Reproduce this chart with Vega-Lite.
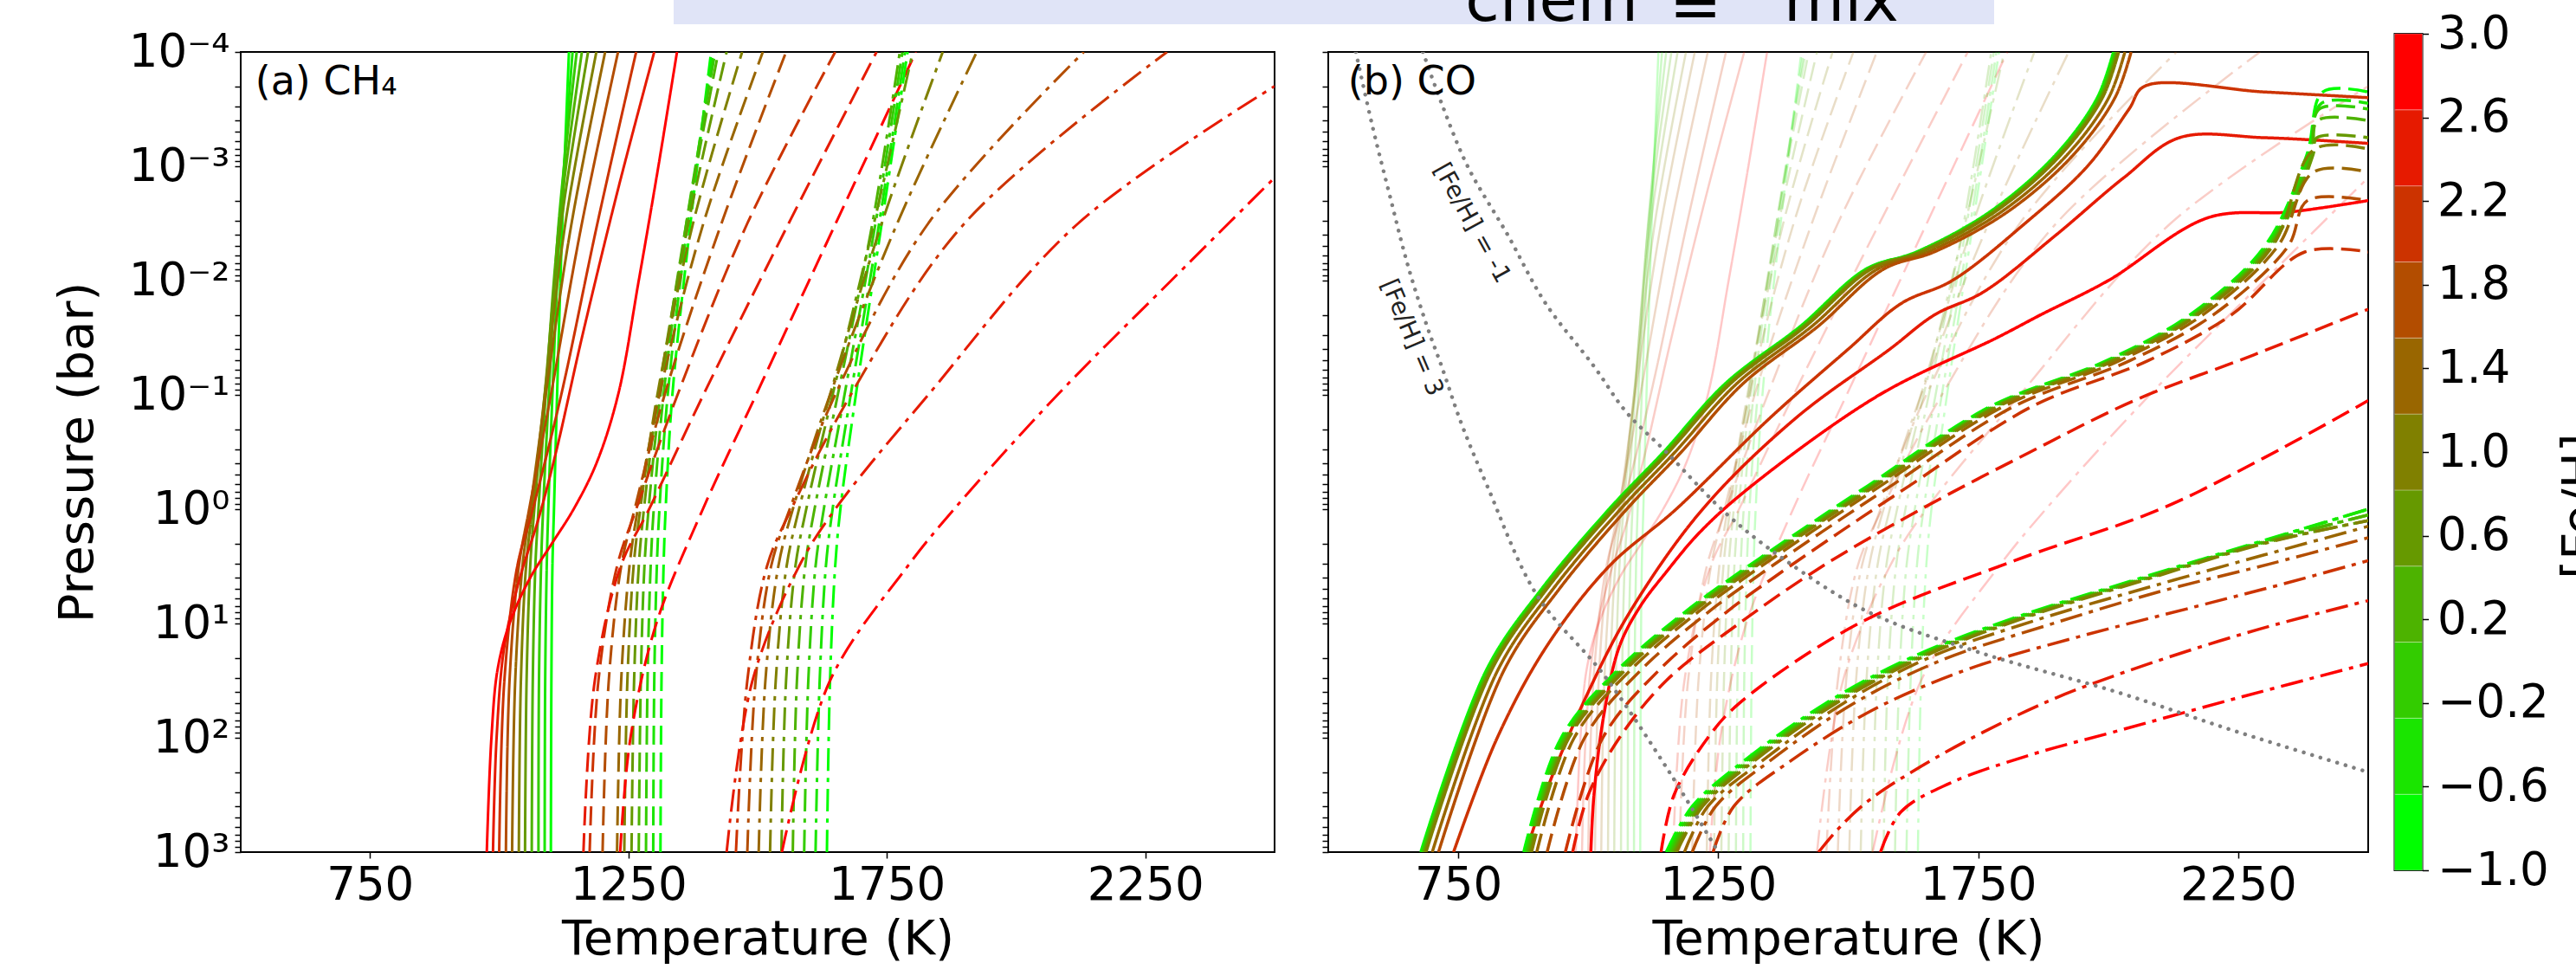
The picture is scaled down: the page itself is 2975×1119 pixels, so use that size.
{
"$schema":"https://vega.github.io/schema/vega-lite/v6.json",
"background":"white",
"autosize":{"type":"pad"},
"padding":{"left":60,"top":-60,"right":0,"bottom":0},
"config":{
 "font":"DejaVu Sans",
 "view":{"stroke":"#000000","strokeWidth":2},
 "axis":{"grid":false,"domain":false,"tickColor":"#000","tickWidth":1.5,"tickSize":7,"labelColor":"#000","titleColor":"#000","labelFont":"DejaVu Sans","titleFont":"DejaVu Sans","labelFontSize":53,"titleFontSize":56,"titleFontWeight":"normal","labelFlush":false,"labelOverlap":false,"labelBound":false},
 "legend":{"disable":true},
 "text":{"font":"DejaVu Sans"}
},
"datasets":{
 "box":[{"T":1337.5,"T2":3892,"p":1.2546e-5,"p2":5.72e-5}],
 "ttl":[{"T":2869,"p":5.34e-5,"t":"chem"},{"T":3264,"p":6.14e-5,"t":"="},{"T":3485,"p":5.34e-5,"t":"mix"}],
 "cbar":[{"f":-1,"lo":-1,"hi":-0.6364},{"f":-0.6,"lo":-0.6364,"hi":-0.2727},{"f":-0.2,"lo":-0.2727,"hi":0.0909},{"f":0.2,"lo":0.0909,"hi":0.4545},{"f":0.6,"lo":0.4545,"hi":0.8182},{"f":1,"lo":0.8182,"hi":1.1818},{"f":1.4,"lo":1.1818,"hi":1.5455},{"f":1.8,"lo":1.5455,"hi":1.9091},{"f":2.2,"lo":1.9091,"hi":2.2727},{"f":2.6,"lo":2.2727,"hi":2.6364},{"f":3,"lo":2.6364,"hi":3}],
 "dots":[
{"c":"m1","T":682,"p":0.0001},{"c":"m1","T":718,"p":0.00028184},{"c":"m1","T":768,"p":0.001},{"c":"m1","T":845,"p":0.0039811},{"c":"m1","T":918,"p":0.015849},{"c":"m1","T":1011,"p":0.056234},{"c":"m1","T":1073,"p":0.14125},{"c":"m1","T":1150,"p":0.31623},{"c":"m1","T":1268,"p":1.122},{"c":"m1","T":1380,"p":2.8184},{"c":"m1","T":1539,"p":7.9433},{"c":"m1","T":1750,"p":17.783},{"c":"m1","T":2017,"p":39.811},{"c":"m1","T":2250,"p":89.125},{"c":"m1","T":2500,"p":199.53},
{"c":"p3","T":553,"p":0.0001},{"c":"p3","T":585,"p":0.00044668},{"c":"p3","T":618,"p":0.0017783},{"c":"p3","T":652,"p":0.0070795},{"c":"p3","T":690,"p":0.025119},{"c":"p3","T":718,"p":0.056234},{"c":"p3","T":756,"p":0.17783},{"c":"p3","T":806,"p":0.63096},{"c":"p3","T":901,"p":5.6234},{"c":"p3","T":1030,"p":28.184},{"c":"p3","T":1156,"p":199.53},{"c":"p3","T":1250,"p":1000}
 ],
 "ch4":[
{"g":"s","f":-1,"T":1100,"p":1000},{"g":"s","f":-1,"T":1101,"p":31.623},{"g":"s","f":-1,"T":1103,"p":3.1623},{"g":"s","f":-1,"T":1106,"p":1},{"g":"s","f":-1,"T":1112,"p":0.1},{"g":"s","f":-1,"T":1122,"p":0.0031623},{"g":"s","f":-1,"T":1135,"p":0.0001},
{"g":"s","f":-0.6,"T":1088,"p":1000},{"g":"s","f":-0.6,"T":1089,"p":31.623},{"g":"s","f":-0.6,"T":1092,"p":3.1623},{"g":"s","f":-0.6,"T":1095,"p":1},{"g":"s","f":-0.6,"T":1103,"p":0.1},{"g":"s","f":-0.6,"T":1118,"p":0.0031623},{"g":"s","f":-0.6,"T":1142,"p":0.0001},
{"g":"s","f":-0.2,"T":1076,"p":1000},{"g":"s","f":-0.2,"T":1077,"p":31.623},{"g":"s","f":-0.2,"T":1081,"p":3.1623},{"g":"s","f":-0.2,"T":1085,"p":1},{"g":"s","f":-0.2,"T":1096,"p":0.1},{"g":"s","f":-0.2,"T":1115,"p":0.0031623},{"g":"s","f":-0.2,"T":1150,"p":0.0001},
{"g":"s","f":0.2,"T":1063,"p":1000},{"g":"s","f":0.2,"T":1065,"p":31.623},{"g":"s","f":0.2,"T":1070,"p":3.1623},{"g":"s","f":0.2,"T":1076,"p":1},{"g":"s","f":0.2,"T":1090,"p":0.1},{"g":"s","f":0.2,"T":1116,"p":0.0031623},{"g":"s","f":0.2,"T":1160,"p":0.0001},
{"g":"s","f":0.6,"T":1050,"p":1000},{"g":"s","f":0.6,"T":1053,"p":31.623},{"g":"s","f":0.6,"T":1060,"p":3.1623},{"g":"s","f":0.6,"T":1068,"p":1},{"g":"s","f":0.6,"T":1088,"p":0.1},{"g":"s","f":0.6,"T":1120,"p":0.0031623},{"g":"s","f":0.6,"T":1172,"p":0.0001},
{"g":"s","f":1,"T":1038,"p":1000},{"g":"s","f":1,"T":1042,"p":31.623},{"g":"s","f":1,"T":1052,"p":3.1623},{"g":"s","f":1,"T":1064,"p":1},{"g":"s","f":1,"T":1088,"p":0.1},{"g":"s","f":1,"T":1128,"p":0.0031623},{"g":"s","f":1,"T":1188,"p":0.0001},
{"g":"s","f":1.4,"T":1025,"p":1000},{"g":"s","f":1.4,"T":1031,"p":31.623},{"g":"s","f":1.4,"T":1045,"p":3.1623},{"g":"s","f":1.4,"T":1060,"p":1},{"g":"s","f":1.4,"T":1090,"p":0.1},{"g":"s","f":1.4,"T":1140,"p":0.0031623},{"g":"s","f":1.4,"T":1205,"p":0.0001},
{"g":"s","f":1.8,"T":1013,"p":1000},{"g":"s","f":1.8,"T":1020,"p":31.623},{"g":"s","f":1.8,"T":1038,"p":3.1623},{"g":"s","f":1.8,"T":1058,"p":1},{"g":"s","f":1.8,"T":1100,"p":0.1},{"g":"s","f":1.8,"T":1160,"p":0.0031623},{"g":"s","f":1.8,"T":1230,"p":0.0001},
{"g":"s","f":2.2,"T":1000,"p":1000},{"g":"s","f":2.2,"T":1010,"p":31.623},{"g":"s","f":2.2,"T":1035,"p":3.1623},{"g":"s","f":2.2,"T":1065,"p":1},{"g":"s","f":2.2,"T":1120,"p":0.1},{"g":"s","f":2.2,"T":1190,"p":0.0031623},{"g":"s","f":2.2,"T":1265,"p":0.0001},
{"g":"s","f":2.6,"T":988,"p":1000},{"g":"s","f":2.6,"T":995,"p":100},{"g":"s","f":2.6,"T":1010,"p":15.849},{"g":"s","f":2.6,"T":1040,"p":3.9811},{"g":"s","f":2.6,"T":1075,"p":1.2589},{"g":"s","f":2.6,"T":1110,"p":0.31623},{"g":"s","f":2.6,"T":1160,"p":0.031623},{"g":"s","f":2.6,"T":1230,"p":0.0015849},{"g":"s","f":2.6,"T":1300,"p":0.0001},
{"g":"s","f":3,"T":976,"p":1000},{"g":"s","f":3,"T":985,"p":100},{"g":"s","f":3,"T":997,"p":25.119},{"g":"s","f":3,"T":1020,"p":10},{"g":"s","f":3,"T":1060,"p":3.9811},{"g":"s","f":3,"T":1102,"p":1.9953},{"g":"s","f":3,"T":1144,"p":1},{"g":"s","f":3,"T":1188,"p":0.39811},{"g":"s","f":3,"T":1230,"p":0.1},{"g":"s","f":3,"T":1270,"p":0.01},{"g":"s","f":3,"T":1308,"p":0.001},{"g":"s","f":3,"T":1344,"p":0.0001},
{"g":"d","f":-1,"T":1312,"p":1000},{"g":"d","f":-1,"T":1314,"p":31.623},{"g":"d","f":-1,"T":1318,"p":3.1623},{"g":"d","f":-1,"T":1322,"p":1},{"g":"d","f":-1,"T":1335,"p":0.1},{"g":"d","f":-1,"T":1370,"p":0.0031623},{"g":"d","f":-1,"T":1410,"p":0.0001},
{"g":"d","f":-0.6,"T":1298,"p":1000},{"g":"d","f":-0.6,"T":1300,"p":31.623},{"g":"d","f":-0.6,"T":1305,"p":3.1623},{"g":"d","f":-0.6,"T":1310,"p":1},{"g":"d","f":-0.6,"T":1326,"p":0.1},{"g":"d","f":-0.6,"T":1365,"p":0.0031623},{"g":"d","f":-0.6,"T":1414,"p":0.0001},
{"g":"d","f":-0.2,"T":1284,"p":1000},{"g":"d","f":-0.2,"T":1287,"p":31.623},{"g":"d","f":-0.2,"T":1293,"p":3.1623},{"g":"d","f":-0.2,"T":1299,"p":1},{"g":"d","f":-0.2,"T":1318,"p":0.1},{"g":"d","f":-0.2,"T":1362,"p":0.0031623},{"g":"d","f":-0.2,"T":1418,"p":0.0001},
{"g":"d","f":0.2,"T":1270,"p":1000},{"g":"d","f":0.2,"T":1274,"p":31.623},{"g":"d","f":0.2,"T":1281,"p":3.1623},{"g":"d","f":0.2,"T":1289,"p":1},{"g":"d","f":0.2,"T":1312,"p":0.1},{"g":"d","f":0.2,"T":1362,"p":0.0031623},{"g":"d","f":0.2,"T":1424,"p":0.0001},
{"g":"d","f":0.6,"T":1256,"p":1000},{"g":"d","f":0.6,"T":1261,"p":31.623},{"g":"d","f":0.6,"T":1270,"p":3.1623},{"g":"d","f":0.6,"T":1280,"p":1},{"g":"d","f":0.6,"T":1308,"p":0.1},{"g":"d","f":0.6,"T":1366,"p":0.0031623},{"g":"d","f":0.6,"T":1440,"p":0.0001},
{"g":"d","f":1,"T":1242,"p":1000},{"g":"d","f":1,"T":1248,"p":31.623},{"g":"d","f":1,"T":1260,"p":3.1623},{"g":"d","f":1,"T":1273,"p":1},{"g":"d","f":1,"T":1306,"p":0.1},{"g":"d","f":1,"T":1375,"p":0.0031623},{"g":"d","f":1,"T":1470,"p":0.0001},
{"g":"d","f":1.4,"T":1228,"p":1000},{"g":"d","f":1.4,"T":1236,"p":31.623},{"g":"d","f":1.4,"T":1252,"p":3.1623},{"g":"d","f":1.4,"T":1268,"p":1},{"g":"d","f":1.4,"T":1310,"p":0.1},{"g":"d","f":1.4,"T":1395,"p":0.0031623},{"g":"d","f":1.4,"T":1510,"p":0.0001},
{"g":"d","f":1.8,"T":1200,"p":1000},{"g":"d","f":1.8,"T":1212,"p":31.623},{"g":"d","f":1.8,"T":1236,"p":3.1623},{"g":"d","f":1.8,"T":1262,"p":1},{"g":"d","f":1.8,"T":1320,"p":0.1},{"g":"d","f":1.8,"T":1430,"p":0.0031623},{"g":"d","f":1.8,"T":1555,"p":0.0001},
{"g":"d","f":2.2,"T":1175,"p":1000},{"g":"d","f":2.2,"T":1192,"p":31.623},{"g":"d","f":2.2,"T":1228,"p":3.1623},{"g":"d","f":2.2,"T":1265,"p":1},{"g":"d","f":2.2,"T":1345,"p":0.1},{"g":"d","f":2.2,"T":1480,"p":0.0031623},{"g":"d","f":2.2,"T":1650,"p":0.0001},
{"g":"d","f":2.6,"T":1163,"p":1000},{"g":"d","f":2.6,"T":1185,"p":31.623},{"g":"d","f":2.6,"T":1235,"p":3.1623},{"g":"d","f":2.6,"T":1290,"p":1},{"g":"d","f":2.6,"T":1395,"p":0.1},{"g":"d","f":2.6,"T":1560,"p":0.0031623},{"g":"d","f":2.6,"T":1730,"p":0.0001},
{"g":"d","f":3,"T":1234,"p":1000},{"g":"d","f":3,"T":1254,"p":100},{"g":"d","f":3,"T":1304,"p":10},{"g":"d","f":3,"T":1394,"p":1},{"g":"d","f":3,"T":1497,"p":0.1},{"g":"d","f":3,"T":1651,"p":0.0031623},{"g":"d","f":3,"T":1806,"p":0.0001},
{"g":"dd","f":-1,"T":1634,"p":1000},{"g":"dd","f":-1,"T":1640,"p":31.623},{"g":"dd","f":-1,"T":1650,"p":3.1623},{"g":"dd","f":-1,"T":1660,"p":1},{"g":"dd","f":-1,"T":1690,"p":0.1},{"g":"dd","f":-1,"T":1740,"p":0.0031623},{"g":"dd","f":-1,"T":1790,"p":0.0001},
{"g":"dd","f":-0.6,"T":1612,"p":1000},{"g":"dd","f":-0.6,"T":1620,"p":31.623},{"g":"dd","f":-0.6,"T":1632,"p":3.1623},{"g":"dd","f":-0.6,"T":1645,"p":1},{"g":"dd","f":-0.6,"T":1680,"p":0.1},{"g":"dd","f":-0.6,"T":1735,"p":0.0031623},{"g":"dd","f":-0.6,"T":1785,"p":0.0001},
{"g":"dd","f":-0.2,"T":1590,"p":1000},{"g":"dd","f":-0.2,"T":1598,"p":31.623},{"g":"dd","f":-0.2,"T":1612,"p":3.1623},{"g":"dd","f":-0.2,"T":1628,"p":1},{"g":"dd","f":-0.2,"T":1668,"p":0.1},{"g":"dd","f":-0.2,"T":1728,"p":0.0031623},{"g":"dd","f":-0.2,"T":1780,"p":0.0001},
{"g":"dd","f":0.2,"T":1568,"p":1000},{"g":"dd","f":0.2,"T":1576,"p":31.623},{"g":"dd","f":0.2,"T":1592,"p":3.1623},{"g":"dd","f":0.2,"T":1610,"p":1},{"g":"dd","f":0.2,"T":1655,"p":0.1},{"g":"dd","f":0.2,"T":1722,"p":0.0031623},{"g":"dd","f":0.2,"T":1775,"p":0.0001},
{"g":"dd","f":0.6,"T":1546,"p":1000},{"g":"dd","f":0.6,"T":1555,"p":31.623},{"g":"dd","f":0.6,"T":1573,"p":3.1623},{"g":"dd","f":0.6,"T":1594,"p":1},{"g":"dd","f":0.6,"T":1645,"p":0.1},{"g":"dd","f":0.6,"T":1725,"p":0.0031623},{"g":"dd","f":0.6,"T":1800,"p":0.0001},
{"g":"dd","f":1,"T":1524,"p":1000},{"g":"dd","f":1,"T":1535,"p":31.623},{"g":"dd","f":1,"T":1556,"p":3.1623},{"g":"dd","f":1,"T":1580,"p":1},{"g":"dd","f":1,"T":1640,"p":0.1},{"g":"dd","f":1,"T":1740,"p":0.0031623},{"g":"dd","f":1,"T":1858,"p":0.0001},
{"g":"dd","f":1.4,"T":1502,"p":1000},{"g":"dd","f":1.4,"T":1515,"p":31.623},{"g":"dd","f":1.4,"T":1540,"p":3.1623},{"g":"dd","f":1.4,"T":1568,"p":1},{"g":"dd","f":1.4,"T":1640,"p":0.1},{"g":"dd","f":1.4,"T":1770,"p":0.0031623},{"g":"dd","f":1.4,"T":1924,"p":0.0001},
{"g":"dd","f":1.8,"T":1480,"p":1000},{"g":"dd","f":1.8,"T":1496,"p":31.623},{"g":"dd","f":1.8,"T":1526,"p":3.1623},{"g":"dd","f":1.8,"T":1562,"p":1},{"g":"dd","f":1.8,"T":1650,"p":0.1},{"g":"dd","f":1.8,"T":1830,"p":0.0031623},{"g":"dd","f":1.8,"T":2131,"p":0.0001},
{"g":"dd","f":2.2,"T":1458,"p":1000},{"g":"dd","f":2.2,"T":1480,"p":31.623},{"g":"dd","f":2.2,"T":1518,"p":3.1623},{"g":"dd","f":2.2,"T":1565,"p":1},{"g":"dd","f":2.2,"T":1680,"p":0.1},{"g":"dd","f":2.2,"T":1900,"p":0.0031623},{"g":"dd","f":2.2,"T":2292,"p":0.0001},
{"g":"dd","f":2.6,"T":1440,"p":1000},{"g":"dd","f":2.6,"T":1490,"p":31.623},{"g":"dd","f":2.6,"T":1580,"p":3.1623},{"g":"dd","f":2.6,"T":1650,"p":1},{"g":"dd","f":2.6,"T":1830,"p":0.1},{"g":"dd","f":2.6,"T":2120,"p":0.0031623},{"g":"dd","f":2.6,"T":2500,"p":0.00019953},
{"g":"dd","f":3,"T":1547,"p":1000},{"g":"dd","f":3,"T":1640,"p":31.623},{"g":"dd","f":3,"T":1790,"p":3.1623},{"g":"dd","f":3,"T":1880,"p":1},{"g":"dd","f":3,"T":2080,"p":0.1},{"g":"dd","f":3,"T":2300,"p":0.01},{"g":"dd","f":3,"T":2500,"p":0.0012589}
 ],
 "co":[
{"g":"s","f":-1,"T":678,"p":1000},{"g":"s","f":-1,"T":805,"p":25.119},{"g":"s","f":-1,"T":910,"p":5.0119},{"g":"s","f":-1,"T":1040,"p":1},{"g":"s","f":-1,"T":1145,"p":0.31623},{"g":"s","f":-1,"T":1264,"p":0.079433},{"g":"s","f":-1,"T":1408,"p":0.025119},{"g":"s","f":-1,"T":1534,"p":0.0079433},{"g":"s","f":-1,"T":1631,"p":0.0056234},{"g":"s","f":-1,"T":1772,"p":0.0025119},{"g":"s","f":-1,"T":1899,"p":0.00079433},{"g":"s","f":-1,"T":1979,"p":0.00025119},{"g":"s","f":-1,"T":2010,"p":0.0001},
{"g":"s","f":-0.6,"T":680,"p":1000},{"g":"s","f":-0.6,"T":807,"p":25.119},{"g":"s","f":-0.6,"T":912,"p":5.0119},{"g":"s","f":-0.6,"T":1042,"p":1},{"g":"s","f":-0.6,"T":1147,"p":0.31623},{"g":"s","f":-0.6,"T":1266,"p":0.079433},{"g":"s","f":-0.6,"T":1410,"p":0.025119},{"g":"s","f":-0.6,"T":1536,"p":0.0079433},{"g":"s","f":-0.6,"T":1633,"p":0.0056234},{"g":"s","f":-0.6,"T":1774,"p":0.0025119},{"g":"s","f":-0.6,"T":1901,"p":0.00079433},{"g":"s","f":-0.6,"T":1981,"p":0.00025119},{"g":"s","f":-0.6,"T":2012,"p":0.0001},
{"g":"s","f":-0.2,"T":682,"p":1000},{"g":"s","f":-0.2,"T":809,"p":25.119},{"g":"s","f":-0.2,"T":914,"p":5.0119},{"g":"s","f":-0.2,"T":1044,"p":1},{"g":"s","f":-0.2,"T":1149,"p":0.31623},{"g":"s","f":-0.2,"T":1268,"p":0.079433},{"g":"s","f":-0.2,"T":1412,"p":0.025119},{"g":"s","f":-0.2,"T":1538,"p":0.0079433},{"g":"s","f":-0.2,"T":1635,"p":0.0056234},{"g":"s","f":-0.2,"T":1776,"p":0.0025119},{"g":"s","f":-0.2,"T":1903,"p":0.00079433},{"g":"s","f":-0.2,"T":1983,"p":0.00025119},{"g":"s","f":-0.2,"T":2014,"p":0.0001},
{"g":"s","f":0.2,"T":684,"p":1000},{"g":"s","f":0.2,"T":811,"p":25.119},{"g":"s","f":0.2,"T":916,"p":5.0119},{"g":"s","f":0.2,"T":1046,"p":1},{"g":"s","f":0.2,"T":1151,"p":0.31623},{"g":"s","f":0.2,"T":1270,"p":0.079433},{"g":"s","f":0.2,"T":1414,"p":0.025119},{"g":"s","f":0.2,"T":1540,"p":0.0079433},{"g":"s","f":0.2,"T":1637,"p":0.0056234},{"g":"s","f":0.2,"T":1778,"p":0.0025119},{"g":"s","f":0.2,"T":1905,"p":0.00079433},{"g":"s","f":0.2,"T":1985,"p":0.00025119},{"g":"s","f":0.2,"T":2016,"p":0.0001},
{"g":"s","f":0.6,"T":686,"p":1000},{"g":"s","f":0.6,"T":813,"p":25.119},{"g":"s","f":0.6,"T":918,"p":5.0119},{"g":"s","f":0.6,"T":1048,"p":1},{"g":"s","f":0.6,"T":1153,"p":0.31623},{"g":"s","f":0.6,"T":1272,"p":0.079433},{"g":"s","f":0.6,"T":1416,"p":0.025119},{"g":"s","f":0.6,"T":1542,"p":0.0079433},{"g":"s","f":0.6,"T":1639,"p":0.0056234},{"g":"s","f":0.6,"T":1780,"p":0.0025119},{"g":"s","f":0.6,"T":1907,"p":0.00079433},{"g":"s","f":0.6,"T":1987,"p":0.00025119},{"g":"s","f":0.6,"T":2018,"p":0.0001},
{"g":"s","f":1,"T":688,"p":1000},{"g":"s","f":1,"T":815,"p":25.119},{"g":"s","f":1,"T":920,"p":5.0119},{"g":"s","f":1,"T":1050,"p":1},{"g":"s","f":1,"T":1155,"p":0.31623},{"g":"s","f":1,"T":1274,"p":0.079433},{"g":"s","f":1,"T":1418,"p":0.025119},{"g":"s","f":1,"T":1544,"p":0.0079433},{"g":"s","f":1,"T":1641,"p":0.0056234},{"g":"s","f":1,"T":1782,"p":0.0025119},{"g":"s","f":1,"T":1909,"p":0.00079433},{"g":"s","f":1,"T":1989,"p":0.00025119},{"g":"s","f":1,"T":2020,"p":0.0001},
{"g":"s","f":1.4,"T":700,"p":1000},{"g":"s","f":1.4,"T":827,"p":25.119},{"g":"s","f":1.4,"T":932,"p":5.0119},{"g":"s","f":1.4,"T":1062,"p":1},{"g":"s","f":1.4,"T":1167,"p":0.31623},{"g":"s","f":1.4,"T":1286,"p":0.079433},{"g":"s","f":1.4,"T":1430,"p":0.025119},{"g":"s","f":1.4,"T":1556,"p":0.0079433},{"g":"s","f":1.4,"T":1653,"p":0.0056234},{"g":"s","f":1.4,"T":1794,"p":0.0025119},{"g":"s","f":1.4,"T":1921,"p":0.00079433},{"g":"s","f":1.4,"T":2001,"p":0.00025119},{"g":"s","f":1.4,"T":2032,"p":0.0001},
{"g":"s","f":1.8,"T":712,"p":1000},{"g":"s","f":1.8,"T":839,"p":25.119},{"g":"s","f":1.8,"T":944,"p":5.0119},{"g":"s","f":1.8,"T":1074,"p":1},{"g":"s","f":1.8,"T":1179,"p":0.31623},{"g":"s","f":1.8,"T":1298,"p":0.079433},{"g":"s","f":1.8,"T":1442,"p":0.025119},{"g":"s","f":1.8,"T":1568,"p":0.0079433},{"g":"s","f":1.8,"T":1665,"p":0.0056234},{"g":"s","f":1.8,"T":1806,"p":0.0025119},{"g":"s","f":1.8,"T":1933,"p":0.00079433},{"g":"s","f":1.8,"T":2013,"p":0.00025119},{"g":"s","f":1.8,"T":2044,"p":0.0001},
{"g":"s","f":2.2,"T":741,"p":1000},{"g":"s","f":2.2,"T":825,"p":100},{"g":"s","f":2.2,"T":920,"p":15.849},{"g":"s","f":2.2,"T":1040,"p":3.1623},{"g":"s","f":2.2,"T":1169,"p":1},{"g":"s","f":2.2,"T":1350,"p":0.15849},{"g":"s","f":2.2,"T":1500,"p":0.039811},{"g":"s","f":2.2,"T":1602,"p":0.015849},{"g":"s","f":2.2,"T":1700,"p":0.01},{"g":"s","f":2.2,"T":1840,"p":0.0031623},{"g":"s","f":2.2,"T":1960,"p":0.001},{"g":"s","f":2.2,"T":2040,"p":0.00031623},{"g":"s","f":2.2,"T":2070,"p":0.00019953},{"g":"s","f":2.2,"T":2300,"p":0.00022387},{"g":"s","f":2.2,"T":2500,"p":0.00025119},
{"g":"s","f":2.6,"T":880,"p":1000},{"g":"s","f":2.6,"T":925,"p":251.19},{"g":"s","f":2.6,"T":1000,"p":39.811},{"g":"s","f":2.6,"T":1080,"p":7.9433},{"g":"s","f":2.6,"T":1220,"p":1},{"g":"s","f":2.6,"T":1400,"p":0.15849},{"g":"s","f":2.6,"T":1580,"p":0.039811},{"g":"s","f":2.6,"T":1666,"p":0.019953},{"g":"s","f":2.6,"T":1760,"p":0.012589},{"g":"s","f":2.6,"T":1900,"p":0.0039811},{"g":"s","f":2.6,"T":2030,"p":0.0012589},{"g":"s","f":2.6,"T":2137,"p":0.00056234},{"g":"s","f":2.6,"T":2300,"p":0.00056234},{"g":"s","f":2.6,"T":2500,"p":0.00063096},
{"g":"s","f":3,"T":1005,"p":1000},{"g":"s","f":3,"T":1011,"p":316.23},{"g":"s","f":3,"T":1030,"p":63.096},{"g":"s","f":3,"T":1060,"p":15.849},{"g":"s","f":3,"T":1100,"p":7.0795},{"g":"s","f":3,"T":1150,"p":3.5481},{"g":"s","f":3,"T":1215,"p":1.5849},{"g":"s","f":3,"T":1313,"p":0.63096},{"g":"s","f":3,"T":1560,"p":0.1},{"g":"s","f":3,"T":1786,"p":0.031623},{"g":"s","f":3,"T":1870,"p":0.019953},{"g":"s","f":3,"T":2000,"p":0.01},{"g":"s","f":3,"T":2192,"p":0.0028184},{"g":"s","f":3,"T":2350,"p":0.0025119},{"g":"s","f":3,"T":2500,"p":0.0019953},
{"g":"d","f":-1,"T":876,"p":1000},{"g":"d","f":-1,"T":948,"p":100},{"g":"d","f":-1,"T":1058,"p":25.119},{"g":"d","f":-1,"T":1186,"p":7.9433},{"g":"d","f":-1,"T":1276,"p":3.9811},{"g":"d","f":-1,"T":1404,"p":1.5849},{"g":"d","f":-1,"T":1536,"p":0.63096},{"g":"d","f":-1,"T":1774,"p":0.12589},{"g":"d","f":-1,"T":1997,"p":0.050119},{"g":"d","f":-1,"T":2157,"p":0.019953},{"g":"d","f":-1,"T":2301,"p":0.0050119},{"g":"d","f":-1,"T":2382,"p":0.00079433},{"g":"d","f":-1,"T":2413,"p":0.00022387},{"g":"d","f":-1,"T":2500,"p":0.00022387},
{"g":"d","f":-0.6,"T":879,"p":1000},{"g":"d","f":-0.6,"T":951,"p":100},{"g":"d","f":-0.6,"T":1061,"p":25.119},{"g":"d","f":-0.6,"T":1189,"p":7.9433},{"g":"d","f":-0.6,"T":1279,"p":3.9811},{"g":"d","f":-0.6,"T":1407,"p":1.5849},{"g":"d","f":-0.6,"T":1539,"p":0.63096},{"g":"d","f":-0.6,"T":1777,"p":0.12589},{"g":"d","f":-0.6,"T":2000,"p":0.050119},{"g":"d","f":-0.6,"T":2160,"p":0.019953},{"g":"d","f":-0.6,"T":2304,"p":0.0050119},{"g":"d","f":-0.6,"T":2385,"p":0.00079433},{"g":"d","f":-0.6,"T":2410,"p":0.00028184},{"g":"d","f":-0.6,"T":2500,"p":0.00028184},
{"g":"d","f":-0.2,"T":882,"p":1000},{"g":"d","f":-0.2,"T":954,"p":100},{"g":"d","f":-0.2,"T":1064,"p":25.119},{"g":"d","f":-0.2,"T":1192,"p":7.9433},{"g":"d","f":-0.2,"T":1282,"p":3.9811},{"g":"d","f":-0.2,"T":1410,"p":1.5849},{"g":"d","f":-0.2,"T":1542,"p":0.63096},{"g":"d","f":-0.2,"T":1780,"p":0.12589},{"g":"d","f":-0.2,"T":2003,"p":0.050119},{"g":"d","f":-0.2,"T":2163,"p":0.019953},{"g":"d","f":-0.2,"T":2307,"p":0.0050119},{"g":"d","f":-0.2,"T":2388,"p":0.00079433},{"g":"d","f":-0.2,"T":2406,"p":0.00031623},{"g":"d","f":-0.2,"T":2500,"p":0.00031623},
{"g":"d","f":0.2,"T":885,"p":1000},{"g":"d","f":0.2,"T":957,"p":100},{"g":"d","f":0.2,"T":1067,"p":25.119},{"g":"d","f":0.2,"T":1195,"p":7.9433},{"g":"d","f":0.2,"T":1285,"p":3.9811},{"g":"d","f":0.2,"T":1413,"p":1.5849},{"g":"d","f":0.2,"T":1545,"p":0.63096},{"g":"d","f":0.2,"T":1783,"p":0.12589},{"g":"d","f":0.2,"T":2006,"p":0.050119},{"g":"d","f":0.2,"T":2166,"p":0.019953},{"g":"d","f":0.2,"T":2310,"p":0.0050119},{"g":"d","f":0.2,"T":2391,"p":0.00079433},{"g":"d","f":0.2,"T":2403,"p":0.00039811},{"g":"d","f":0.2,"T":2500,"p":0.00039811},
{"g":"d","f":0.6,"T":888,"p":1000},{"g":"d","f":0.6,"T":960,"p":100},{"g":"d","f":0.6,"T":1070,"p":25.119},{"g":"d","f":0.6,"T":1198,"p":7.9433},{"g":"d","f":0.6,"T":1288,"p":3.9811},{"g":"d","f":0.6,"T":1416,"p":1.5849},{"g":"d","f":0.6,"T":1548,"p":0.63096},{"g":"d","f":0.6,"T":1786,"p":0.12589},{"g":"d","f":0.6,"T":2009,"p":0.050119},{"g":"d","f":0.6,"T":2169,"p":0.019953},{"g":"d","f":0.6,"T":2313,"p":0.0050119},{"g":"d","f":0.6,"T":2394,"p":0.00079433},{"g":"d","f":0.6,"T":2401,"p":0.00056234},{"g":"d","f":0.6,"T":2500,"p":0.00056234},
{"g":"d","f":1,"T":891,"p":1000},{"g":"d","f":1,"T":963,"p":100},{"g":"d","f":1,"T":1073,"p":25.119},{"g":"d","f":1,"T":1201,"p":7.9433},{"g":"d","f":1,"T":1291,"p":3.9811},{"g":"d","f":1,"T":1419,"p":1.5849},{"g":"d","f":1,"T":1551,"p":0.63096},{"g":"d","f":1,"T":1789,"p":0.12589},{"g":"d","f":1,"T":2012,"p":0.050119},{"g":"d","f":1,"T":2172,"p":0.019953},{"g":"d","f":1,"T":2316,"p":0.0050119},{"g":"d","f":1,"T":2397,"p":0.00070795},{"g":"d","f":1,"T":2500,"p":0.00070795},
{"g":"d","f":1.4,"T":901,"p":1000},{"g":"d","f":1.4,"T":973,"p":100},{"g":"d","f":1.4,"T":1083,"p":25.119},{"g":"d","f":1.4,"T":1211,"p":7.9433},{"g":"d","f":1.4,"T":1301,"p":3.9811},{"g":"d","f":1.4,"T":1429,"p":1.5849},{"g":"d","f":1.4,"T":1561,"p":0.63096},{"g":"d","f":1.4,"T":1799,"p":0.12589},{"g":"d","f":1.4,"T":2022,"p":0.050119},{"g":"d","f":1.4,"T":2182,"p":0.019953},{"g":"d","f":1.4,"T":2326,"p":0.0050119},{"g":"d","f":1.4,"T":2395,"p":0.001122},{"g":"d","f":1.4,"T":2500,"p":0.001122},
{"g":"d","f":1.8,"T":921,"p":1000},{"g":"d","f":1.8,"T":993,"p":100},{"g":"d","f":1.8,"T":1103,"p":25.119},{"g":"d","f":1.8,"T":1231,"p":7.9433},{"g":"d","f":1.8,"T":1321,"p":3.9811},{"g":"d","f":1.8,"T":1449,"p":1.5849},{"g":"d","f":1.8,"T":1581,"p":0.63096},{"g":"d","f":1.8,"T":1819,"p":0.12589},{"g":"d","f":1.8,"T":2042,"p":0.050119},{"g":"d","f":1.8,"T":2202,"p":0.019953},{"g":"d","f":1.8,"T":2346,"p":0.0050119},{"g":"d","f":1.8,"T":2383,"p":0.0019953},{"g":"d","f":1.8,"T":2500,"p":0.0019953},
{"g":"d","f":2.2,"T":956,"p":1000},{"g":"d","f":2.2,"T":1028,"p":100},{"g":"d","f":2.2,"T":1138,"p":25.119},{"g":"d","f":2.2,"T":1266,"p":7.9433},{"g":"d","f":2.2,"T":1356,"p":3.9811},{"g":"d","f":2.2,"T":1484,"p":1.5849},{"g":"d","f":2.2,"T":1616,"p":0.63096},{"g":"d","f":2.2,"T":1854,"p":0.12589},{"g":"d","f":2.2,"T":2077,"p":0.050119},{"g":"d","f":2.2,"T":2237,"p":0.019953},{"g":"d","f":2.2,"T":2378,"p":0.0056234},{"g":"d","f":2.2,"T":2500,"p":0.0056234},
{"g":"d","f":2.6,"T":970,"p":1000},{"g":"d","f":2.6,"T":1000,"p":316.23},{"g":"d","f":2.6,"T":1060,"p":100},{"g":"d","f":2.6,"T":1150,"p":31.623},{"g":"d","f":2.6,"T":1290,"p":10},{"g":"d","f":2.6,"T":1450,"p":3.1623},{"g":"d","f":2.6,"T":1640,"p":1},{"g":"d","f":2.6,"T":1850,"p":0.31623},{"g":"d","f":2.6,"T":2050,"p":0.1122},{"g":"d","f":2.6,"T":2280,"p":0.044668},{"g":"d","f":2.6,"T":2500,"p":0.017783},
{"g":"d","f":3,"T":1140,"p":1000},{"g":"d","f":3,"T":1165,"p":316.23},{"g":"d","f":3,"T":1230,"p":100},{"g":"d","f":3,"T":1290,"p":50.119},{"g":"d","f":3,"T":1520,"p":10},{"g":"d","f":3,"T":1820,"p":2.8184},{"g":"d","f":3,"T":2100,"p":1},{"g":"d","f":3,"T":2300,"p":0.35481},{"g":"d","f":3,"T":2500,"p":0.1122},
{"g":"dd","f":-1,"T":1150,"p":1000},{"g":"dd","f":-1,"T":1200,"p":398.11},{"g":"dd","f":-1,"T":1300,"p":158.49},{"g":"dd","f":-1,"T":1456,"p":50.119},{"g":"dd","f":-1,"T":1620,"p":19.953},{"g":"dd","f":-1,"T":1820,"p":8.9125},{"g":"dd","f":-1,"T":2050,"p":4.1687},{"g":"dd","f":-1,"T":2280,"p":1.9953},{"g":"dd","f":-1,"T":2500,"p":1},
{"g":"dd","f":-0.6,"T":1154,"p":1000},{"g":"dd","f":-0.6,"T":1204,"p":398.11},{"g":"dd","f":-0.6,"T":1304,"p":158.49},{"g":"dd","f":-0.6,"T":1460,"p":50.119},{"g":"dd","f":-0.6,"T":1624,"p":19.953},{"g":"dd","f":-0.6,"T":1824,"p":8.9125},{"g":"dd","f":-0.6,"T":2054,"p":4.1687},{"g":"dd","f":-0.6,"T":2284,"p":1.9953},{"g":"dd","f":-0.6,"T":2500,"p":1},
{"g":"dd","f":-0.2,"T":1158,"p":1000},{"g":"dd","f":-0.2,"T":1208,"p":398.11},{"g":"dd","f":-0.2,"T":1308,"p":158.49},{"g":"dd","f":-0.2,"T":1464,"p":50.119},{"g":"dd","f":-0.2,"T":1628,"p":19.953},{"g":"dd","f":-0.2,"T":1828,"p":8.9125},{"g":"dd","f":-0.2,"T":2058,"p":4.1687},{"g":"dd","f":-0.2,"T":2288,"p":1.9953},{"g":"dd","f":-0.2,"T":2500,"p":1.122},
{"g":"dd","f":0.2,"T":1162,"p":1000},{"g":"dd","f":0.2,"T":1212,"p":398.11},{"g":"dd","f":0.2,"T":1312,"p":158.49},{"g":"dd","f":0.2,"T":1468,"p":50.119},{"g":"dd","f":0.2,"T":1632,"p":19.953},{"g":"dd","f":0.2,"T":1832,"p":8.9125},{"g":"dd","f":0.2,"T":2062,"p":4.1687},{"g":"dd","f":0.2,"T":2292,"p":1.9953},{"g":"dd","f":0.2,"T":2500,"p":1.122},
{"g":"dd","f":0.6,"T":1166,"p":1000},{"g":"dd","f":0.6,"T":1216,"p":398.11},{"g":"dd","f":0.6,"T":1316,"p":158.49},{"g":"dd","f":0.6,"T":1472,"p":50.119},{"g":"dd","f":0.6,"T":1636,"p":19.953},{"g":"dd","f":0.6,"T":1836,"p":8.9125},{"g":"dd","f":0.6,"T":2066,"p":4.1687},{"g":"dd","f":0.6,"T":2296,"p":1.9953},{"g":"dd","f":0.6,"T":2500,"p":1.2589},
{"g":"dd","f":1,"T":1170,"p":1000},{"g":"dd","f":1,"T":1220,"p":398.11},{"g":"dd","f":1,"T":1320,"p":158.49},{"g":"dd","f":1,"T":1476,"p":50.119},{"g":"dd","f":1,"T":1640,"p":19.953},{"g":"dd","f":1,"T":1840,"p":8.9125},{"g":"dd","f":1,"T":2070,"p":4.1687},{"g":"dd","f":1,"T":2300,"p":1.9953},{"g":"dd","f":1,"T":2500,"p":1.2589},
{"g":"dd","f":1.4,"T":1185,"p":1000},{"g":"dd","f":1.4,"T":1230,"p":398.11},{"g":"dd","f":1.4,"T":1335,"p":158.49},{"g":"dd","f":1.4,"T":1490,"p":50.119},{"g":"dd","f":1.4,"T":1655,"p":19.953},{"g":"dd","f":1.4,"T":1855,"p":9.5499},{"g":"dd","f":1.4,"T":2080,"p":4.7863},{"g":"dd","f":1.4,"T":2300,"p":2.5119},{"g":"dd","f":1.4,"T":2500,"p":1.4125},
{"g":"dd","f":1.8,"T":1200,"p":1000},{"g":"dd","f":1.8,"T":1245,"p":398.11},{"g":"dd","f":1.8,"T":1350,"p":158.49},{"g":"dd","f":1.8,"T":1510,"p":50.119},{"g":"dd","f":1.8,"T":1680,"p":20.893},{"g":"dd","f":1.8,"T":1880,"p":10.471},{"g":"dd","f":1.8,"T":2100,"p":5.2481},{"g":"dd","f":1.8,"T":2310,"p":3.02},{"g":"dd","f":1.8,"T":2500,"p":1.7783},
{"g":"dd","f":2.2,"T":1240,"p":1000},{"g":"dd","f":2.2,"T":1280,"p":398.11},{"g":"dd","f":2.2,"T":1390,"p":158.49},{"g":"dd","f":2.2,"T":1550,"p":56.234},{"g":"dd","f":2.2,"T":1730,"p":25.119},{"g":"dd","f":2.2,"T":1940,"p":13.183},{"g":"dd","f":2.2,"T":2170,"p":7.0795},{"g":"dd","f":2.2,"T":2340,"p":4.4668},{"g":"dd","f":2.2,"T":2500,"p":2.8184},
{"g":"dd","f":2.6,"T":1443,"p":1000},{"g":"dd","f":2.6,"T":1480,"p":630.96},{"g":"dd","f":2.6,"T":1539,"p":354.81},{"g":"dd","f":2.6,"T":1640,"p":177.83},{"g":"dd","f":2.6,"T":1760,"p":89.125},{"g":"dd","f":2.6,"T":1900,"p":44.668},{"g":"dd","f":2.6,"T":2080,"p":22.387},{"g":"dd","f":2.6,"T":2290,"p":11.22},{"g":"dd","f":2.6,"T":2500,"p":6.3096},
{"g":"dd","f":3,"T":1562,"p":1000},{"g":"dd","f":3,"T":1601,"p":446.68},{"g":"dd","f":3,"T":1694,"p":251.19},{"g":"dd","f":3,"T":1850,"p":141.25},{"g":"dd","f":3,"T":2010,"p":89.125},{"g":"dd","f":3,"T":2250,"p":44.668},{"g":"dd","f":3,"T":2500,"p":22.387}
 ]
},
"spacing":30.5,
"bounds":"flush",
"center":true,
"hconcat":[
 {
  "width":1194,"height":924,
  "encoding":{
   "x":{"field":"T","type":"quantitative","scale":{"domain":[500,2500],"nice":false,"zero":false},"axis":{"values":[750,1250,1750,2250],"format":"d","title":"Temperature (K)","labelPadding":5,"titlePadding":8}},
   "y":{"field":"p","type":"quantitative","scale":{"type":"log","domain":[0.0001,1000],"reverse":true,"nice":false},"axis":{"values":[0.0001,0.0002,0.0003,0.0004,0.0005,0.0006,0.0007,0.0008,0.0009,0.001,0.002,0.003,0.004,0.005,0.006,0.007,0.008,0.009,0.01,0.02,0.03,0.04,0.05,0.06,0.07,0.08,0.09,0.1,0.2,0.3,0.4,0.5,0.6,0.7,0.8,0.9,1,2,3,4,5,6,7,8,9,10,20,30,40,50,60,70,80,90,100,200,300,400,500,600,700,800,900,1000],"labelExpr":"abs(log(datum.value)/LN10-round(log(datum.value)/LN10))<0.01 ? ['10⁻⁴','10⁻³','10⁻²','10⁻¹','10⁰','10¹','10²','10³'][round(log(datum.value)/LN10)+4] : ''","title":"Pressure (bar)","labelPadding":6,"titlePadding":30,"encode":{"ticks":{"update":{"x2":{"signal":"abs(log(datum.value)/LN10-round(log(datum.value)/LN10))<0.01 ? -7 : -4"}}}}}}
  },
  "layer":[
   {"data":{"name":"box"},"mark":{"type":"rect","fill":"#e0e4f7","clip":false},"encoding":{"x2":{"field":"T2"},"y2":{"field":"p2"}}},
   {"data":{"name":"ttl"},"mark":{"type":"text","fontSize":72,"align":"left","baseline":"alphabetic","color":"#000000"},"encoding":{"text":{"field":"t"}}},
   {"data":{"name":"ch4"},"mark":{"type":"line","strokeWidth":3,"interpolate":"catmull-rom","clip":true},"encoding":{
     "color":{"field":"f","type":"ordinal","scale":{"domain":[-1,-0.6,-0.2,0.2,0.6,1,1.4,1.8,2.2,2.6,3],"range":["#00ff00","#1ae500","#33cc00","#4db300","#669900","#808000","#996600","#b34d00","#cc3300","#e61a00","#ff0000"]},"legend":null},
     "strokeDash":{"field":"g","type":"nominal","scale":{"domain":["s","d","dd"],"range":[[1,0],[22,9],[26,8,5,8]]},"legend":null},
     "order":{"value":null}}},
   {"data":{"values":[{"T":528,"p":0.000235,"t":"(a) CH₄"}]},"mark":{"type":"text","fontSize":46,"align":"left","baseline":"alphabetic","color":"#000000"},"encoding":{"text":{"field":"t"}}}
  ]
 },
 {"width":1,"height":924,"data":{"values":[]},"mark":"point","view":{"stroke":null}},
 {
  "width":1201,"height":924,
  "encoding":{
   "x":{"field":"T","type":"quantitative","scale":{"domain":[500,2500],"nice":false,"zero":false},"axis":{"values":[750,1250,1750,2250],"format":"d","title":"Temperature (K)","labelPadding":5,"titlePadding":8}},
   "y":{"field":"p","type":"quantitative","scale":{"type":"log","domain":[0.0001,1000],"reverse":true,"nice":false},"axis":{"values":[0.0001,0.0002,0.0003,0.0004,0.0005,0.0006,0.0007,0.0008,0.0009,0.001,0.002,0.003,0.004,0.005,0.006,0.007,0.008,0.009,0.01,0.02,0.03,0.04,0.05,0.06,0.07,0.08,0.09,0.1,0.2,0.3,0.4,0.5,0.6,0.7,0.8,0.9,1,2,3,4,5,6,7,8,9,10,20,30,40,50,60,70,80,90,100,200,300,400,500,600,700,800,900,1000],"labels":false,"title":null,"encode":{"ticks":{"update":{"x2":{"signal":"abs(log(datum.value)/LN10-round(log(datum.value)/LN10))<0.01 ? -7 : -4"}}}}}}
  },
  "layer":[
   {"data":{"name":"ch4"},"mark":{"type":"line","strokeWidth":2.5,"opacity":0.22,"interpolate":"catmull-rom","clip":true},"encoding":{
     "color":{"field":"f","type":"ordinal","legend":null},
     "strokeDash":{"field":"g","type":"nominal","legend":null},
     "order":{"value":null}}},
   {"data":{"name":"co"},"mark":{"type":"line","strokeWidth":3.5,"interpolate":"catmull-rom","clip":true},"encoding":{
     "color":{"field":"f","type":"ordinal","legend":null},
     "strokeDash":{"field":"g","type":"nominal","legend":null},
     "order":{"value":null}}},
   {"data":{"name":"dots"},"mark":{"type":"line","color":"#7f7f7f","strokeWidth":4.5,"strokeDash":[0.1,10],"strokeCap":"round","interpolate":"catmull-rom","clip":true},"encoding":{"detail":{"field":"c"},"order":{"value":null}}},
   {"data":{"values":[{"T":776,"p":0.0031623,"t":"[Fe/H] = -1"}]},"mark":{"type":"text","fontSize":28,"angle":61,"align":"center","baseline":"middle","color":"#222222"},"encoding":{"text":{"field":"t"}}},
   {"data":{"values":[{"T":660,"p":0.031623,"t":"[Fe/H] = 3"}]},"mark":{"type":"text","fontSize":28,"angle":67,"align":"center","baseline":"middle","color":"#222222"},"encoding":{"text":{"field":"t"}}},
   {"data":{"values":[{"T":538,"p":0.000235,"t":"(b) CO"}]},"mark":{"type":"text","fontSize":46,"align":"left","baseline":"alphabetic","color":"#000000"},"encoding":{"text":{"field":"t"}}}
  ]
 },
 {
  "width":32,"height":966,
  "data":{"name":"cbar"},
  "mark":{"type":"rect","stroke":"#ffffff","strokeOpacity":0.3,"strokeWidth":1},
  "encoding":{
   "y":{"field":"lo","type":"quantitative","scale":{"domain":[-1,3],"nice":false,"zero":false},"axis":{"orient":"right","values":[-1,-0.6,-0.2,0.2,0.6,1,1.4,1.8,2.2,2.6,3],"format":".1f","title":"[Fe/H]","titleAngle":270,"titleBaseline":"top","titleY":545,"labelPadding":10,"titlePadding":10}},
   "y2":{"field":"hi"},
   "color":{"field":"f","type":"ordinal","legend":null}
  }
 }
]
}
